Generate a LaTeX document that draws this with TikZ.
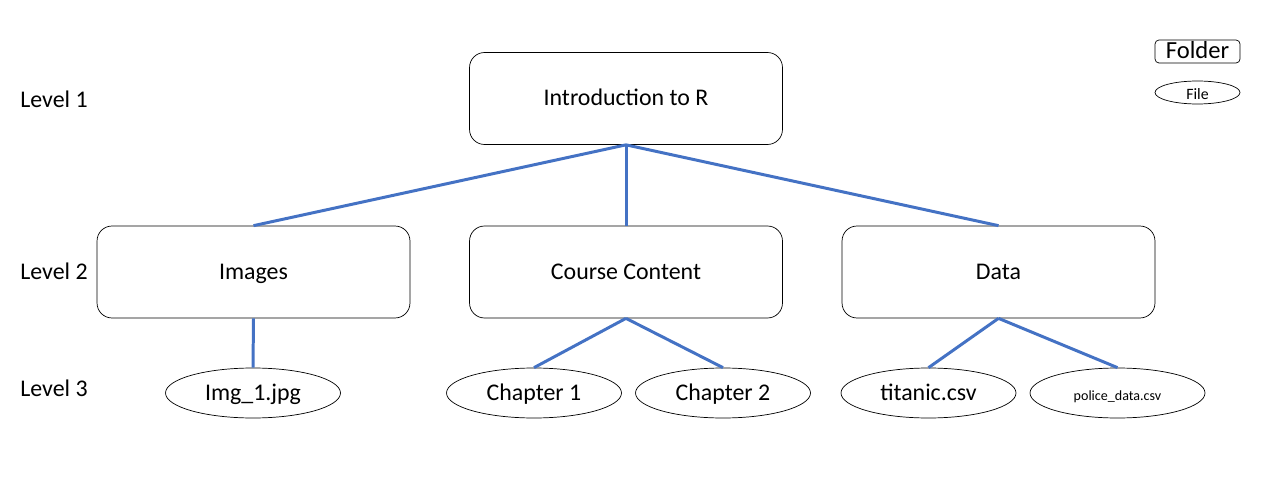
\documentclass[tikz,border=0pt]{standalone}
\usepackage{fontspec}
\setmainfont{Carlito}
\usetikzlibrary{shapes.geometric}
\definecolor{linkblue}{HTML}{4472C4}
\tikzset{
	folder/.style={draw=black, rounded corners=15*0.02cm, minimum width=6.26cm, minimum height=1.84cm, inner sep=0pt, text height=1.75ex, text depth=0pt, font=\fontsize{13.6}{15}\selectfont},
	file/.style={draw=black, ellipse, minimum width=3.5cm, minimum height=1cm, inner sep=0pt, text height=1.75ex, text depth=0pt, font=\fontsize{13.6}{15}\selectfont},
	link/.style={linkblue, line width=1.7pt},
	level/.style={anchor=west, inner sep=0pt, text height=1.75ex, text depth=0pt, font=\fontsize{13.6}{15}\selectfont}
}
\begin{document}
\begin{tikzpicture}[x=0.02cm, y=-0.02cm]
				\useasboundingbox (0,0) rectangle (1280,493);
				% folders
				\node[folder] (intro) at (626,98.5){Introduction to R};
				\node[folder] (images) at (253.5,272){Images};
				\node[folder] (course) at (626,272){Course Content};
				\node[folder] (data) at (998.5,272){Data};
				% files
				\node[file] (img) at (253,393){Img\_1.jpg};
				\node[file] (chap1) at (534,393){Chapter 1};
				\node[file] (chap2) at (723,393){Chapter 2};
				\node[file] (titanic) at (928.5,393){titanic.csv};
				\node[file, font=\fontsize{8}{10}\selectfont] (police) at (1117.5,393){police\_data.csv};
				% levels
				\node[level] (lvl1) at (20,100){Level 1};
				\node[level] (lvl2) at (20,272){Level 2};
				\node[level] (lvl3) at (20,389){Level 3};
				% legend
				\node[draw=black, rounded corners=4*0.02cm, minimum width=1.7cm, minimum height=0.46cm, inner sep=0pt, text height=1.75ex, text depth=0pt, font=\fontsize{14}{15}\selectfont] (keyfolder) at (1197.5,51.5){Folder};
				\node[draw=black, ellipse, minimum width=1.7cm, minimum height=0.46cm, inner sep=0pt, text height=1.75ex, text depth=0pt, font=\fontsize{9}{10}\selectfont] (keyfile) at (1197.5,92.5){File};
				% links
				\draw[link] (intro.south) -- (images.north);
				\draw[link] (intro.south) -- (course.north);
				\draw[link] (intro.south) -- (data.north);
				\draw[link] (images.south) -- (img.north);
				\draw[link] (course.south) -- (chap1.north);
				\draw[link] (course.south) -- (chap2.north);
				\draw[link] (data.south) -- (titanic.north);
				\draw[link] (data.south) -- (police.north);
			\end{tikzpicture}
\end{document}
